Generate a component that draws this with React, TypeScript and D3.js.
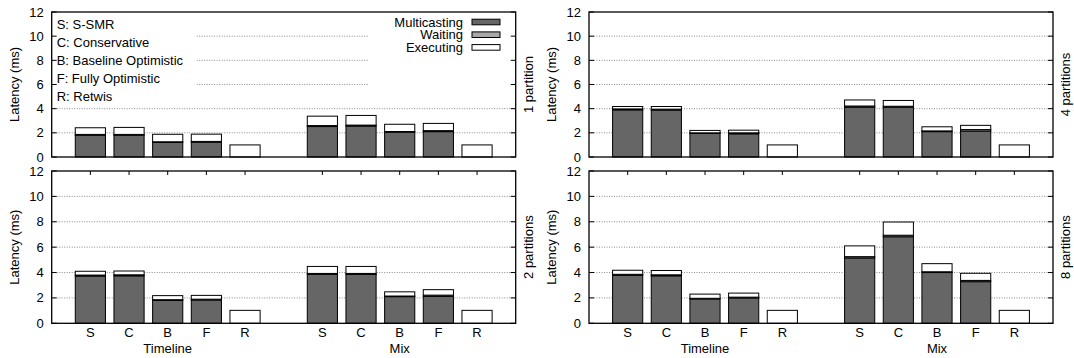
import React from "react";
import * as d3 from "d3";

const categories = ["S", "C", "B", "F", "R"];
const groupNames = ["Timeline", "Mix"];
const yTicks = [0, 2, 4, 6, 8, 10, 12];
const seriesNames = ["Multicasting", "Waiting", "Executing"];
const abbreviations = ["S: S-SMR", "C: Conservative", "B: Baseline Optimistic", "F: Fully Optimistic", "R: Retwis"];
const partitionLabels = ["1 partition", "4 partitions", "2 partitions", "8 partitions"];

// values per bar: Timeline S C B F R, Mix S C B F R
const multicast1 = [1.8, 1.8, 1.2, 1.22, 0, 2.52, 2.56, 2.05, 2.1, 0];
const waiting1 = [0.07, 0.07, 0.06, 0.07, 0, 0.08, 0.08, 0.06, 0.08, 0];
const executing1 = [0.55, 0.58, 0.62, 0.6, 1.0, 0.78, 0.8, 0.6, 0.6, 1.0];

const multicast4 = [3.9, 3.88, 1.95, 1.92, 0, 4.12, 4.12, 2.1, 2.15, 0];
const waiting4 = [0.08, 0.08, 0.05, 0.08, 0, 0.1, 0.08, 0.06, 0.12, 0];
const executing4 = [0.2, 0.22, 0.2, 0.22, 1.0, 0.5, 0.48, 0.34, 0.35, 1.0];

const multicast2 = [3.72, 3.74, 1.8, 1.84, 0, 3.85, 3.85, 2.1, 2.12, 0];
const waiting2 = [0.08, 0.08, 0.06, 0.06, 0, 0.08, 0.08, 0.05, 0.1, 0];
const executing2 = [0.3, 0.3, 0.32, 0.3, 1.02, 0.55, 0.55, 0.33, 0.43, 1.02];

const multicast8 = [3.78, 3.74, 1.92, 2.0, 0, 5.15, 6.82, 4.0, 3.28, 0];
const waiting8 = [0.08, 0.08, 0.05, 0.06, 0, 0.1, 0.12, 0.06, 0.1, 0];
const executing8 = [0.32, 0.34, 0.33, 0.32, 1.02, 0.85, 1.04, 0.64, 0.56, 1.02];

const FONT = "'Liberation Sans', Arial, Helvetica, sans-serif";
const FILLS = ["#666666", "#a8a8a8", "#ffffff"];

type PanelProps = {
  left: number;
  top: number;
  bottom: number;
  label: string;
  showX: boolean;
  showLegend: boolean;
  series: number[][];
};

function Panel({ left, top, bottom, label, showX, showLegend, series }: PanelProps) {
  const width = 464;
  const right = left + width;
  const x = d3.scaleLinear().domain([0, 12]).range([left, right]);
  const y = d3.scaleLinear().domain([0, 12]).range([bottom, top]);
  const unit = x(1) - x(0);
  const barW = unit * 0.78;

  const bars: { pos: number; segs: [number, number][] }[] = [];
  for (let g = 0; g < 2; g++) {
    for (let i = 0; i < categories.length; i++) {
      const idx = g * 5 + i;
      const pos = g * 6 + i + 1;
      let acc = 0;
      const segs: [number, number][] = [];
      for (let s = 0; s < 3; s++) {
        const v = series[s][idx];
        segs.push([acc, acc + v]);
        acc += v;
      }
      bars.push({ pos, segs });
    }
  }
  const positions = bars.map((b) => b.pos);

  return (
    <g>
      {/* grid */}
      {yTicks
        .filter((t) => t > 0 && t < 12)
        .map((t) => (
          <line key={"g" + t} x1={left} x2={right} y1={y(t)} y2={y(t)} stroke="#8a8a8a" strokeWidth={1} strokeDasharray="1,1.5" />
        ))}
      {showLegend && (
        <g>
          <rect x={left + 1} y={top + 1} width={195.5 - left} height={100 - top} fill="#fff" />
          <rect x={368} y={top + 1} width={right - 369} height={100 - top} fill="#fff" />
        </g>
      )}
      {/* x ticks */}
      {showX &&
        positions.map((p) => (
          <g key={"xt" + p}>
            <line x1={x(p)} x2={x(p)} y1={top} y2={top + 4} stroke="#000" />
            <line x1={x(p)} x2={x(p)} y1={bottom} y2={bottom - 4} stroke="#000" />
          </g>
        ))}
      {/* y ticks */}
      {yTicks.map((t) => (
        <g key={"yt" + t}>
          <line x1={left} x2={left + 5} y1={y(t)} y2={y(t)} stroke="#000" />
          <line x1={right} x2={right - 5} y1={y(t)} y2={y(t)} stroke="#000" />
          <text x={left - 8} y={y(t) + 4.5} textAnchor="end" fontSize={13} fontFamily={FONT}>
            {t}
          </text>
        </g>
      ))}
      {/* bars */}
      {bars.map((b) =>
        b.segs.map(([a, c], s) =>
          c - a > 0 ? (
            <rect
              key={"b" + b.pos + "-" + s}
              x={x(b.pos) - barW / 2}
              y={y(c)}
              width={barW}
              height={y(a) - y(c)}
              fill={FILLS[s]}
              stroke="#000"
              strokeWidth={1}
            />
          ) : null
        )
      )}
      {/* border */}
      <rect x={left} y={top} width={width} height={bottom - top} fill="none" stroke="#000" strokeWidth={1.3} />
      {/* y label */}
      <text
        transform={`translate(${left - 33},${(top + bottom) / 2}) rotate(-90)`}
        textAnchor="middle"
        fontSize={13}
        fontFamily={FONT}
      >
        Latency (ms)
      </text>
      <text
        transform={`translate(${right + 17},${(top + bottom) / 2}) rotate(-90)`}
        textAnchor="middle"
        fontSize={13}
        fontFamily={FONT}
      >
        {label}
      </text>
      {showX && (
        <g>
          {bars.map((b, k) => (
            <text key={"xl" + k} x={x(b.pos)} y={bottom + 13.5} textAnchor="middle" fontSize={13} fontFamily={FONT}>
              {categories[k % 5]}
            </text>
          ))}
          {groupNames.map((gname, g) => (
            <text key={"gn" + g} x={x(g * 6 + 3)} y={bottom + 29.5} textAnchor="middle" fontSize={13} fontFamily={FONT}>
              {gname}
            </text>
          ))}
        </g>
      )}
      {showLegend && (
        <g>
          {abbreviations.map((a, i) => (
            <text key={"ab" + i} x={left + 5} y={top + 16.5 + i * 18.2} fontSize={13} fontFamily={FONT}>
              {a}
            </text>
          ))}
          {seriesNames.map((n, i) => (
            <g key={"lg" + i}>
              <text x={463} y={top + 14.5 + i * 12.7} textAnchor="end" fontSize={13} fontFamily={FONT}>
                {n}
              </text>
              <rect x={472} y={top + 7.2 + i * 12.7} width={28} height={5.6} fill={FILLS[i]} stroke="#000" strokeWidth={1} />
            </g>
          ))}
        </g>
      )}
    </g>
  );
}

export default function App() {
  const leftX = [51.7, 589];
  const rows = [
    { top: 12, bottom: 157 },
    { top: 171, bottom: 323.3 },
  ];
  const data = [
    [multicast1, waiting1, executing1],
    [multicast4, waiting4, executing4],
    [multicast2, waiting2, executing2],
    [multicast8, waiting8, executing8],
  ];
  return (
    <svg width={1074} height={358} style={{ position: "absolute", left: 0, top: 0, background: "#fff" }}>
      <rect x={0} y={0} width={1074} height={358} fill="#fff" />
      {[0, 1, 2, 3].map((k) => {
        const r = Math.floor(k / 2);
        const c = k % 2;
        return (
          <Panel
            key={k}
            left={leftX[c]}
            top={rows[r].top}
            bottom={rows[r].bottom}
            label={partitionLabels[k]}
            showX={r === 1}
            showLegend={k === 0}
            series={data[k]}
          />
        );
      })}
    </svg>
  );
}
